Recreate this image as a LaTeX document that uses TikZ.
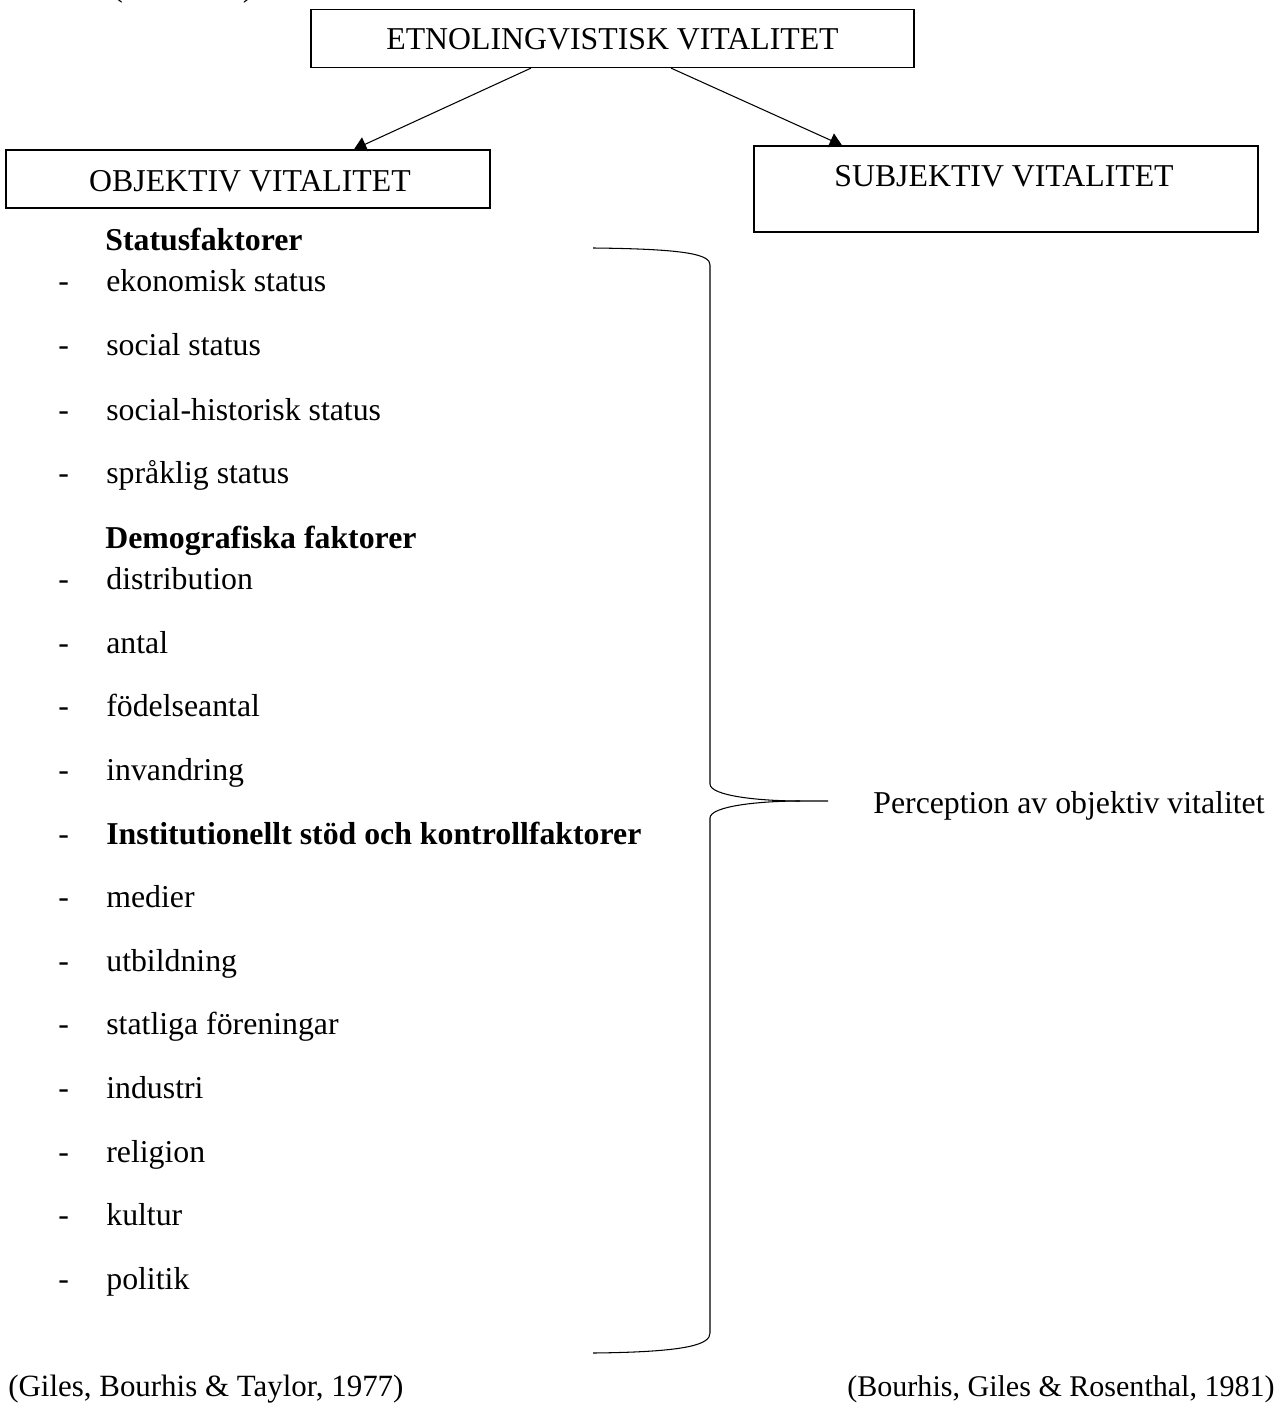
\documentclass[tikz,border=0pt]{standalone}
\usepackage{fontspec}
\setmainfont{Liberation Serif}
\usetikzlibrary{arrows.meta}

\begin{document}
\begin{tikzpicture}[x=0.02cm, y=-0.02cm,
		every node/.style={font=\fontsize{18.1}{21}\selectfont, inner sep=0pt},
		box/.style={draw, line width=0.7pt},
		item/.style={anchor=base west},
		fett/.style={font=\fontsize{18.1}{21}\selectfont\bfseries},
		pfeil/.style={-{Triangle[length=7pt, width=8.5pt]}, line width=0.6pt}]
	\useasboundingbox (0, 0) rectangle (1283, 1405);

	% Rest oben links
	\node[item] (rest) at (112, -3) {(\hspace{2.4cm})};

	% Kaesten
	\node[box, minimum width=12.06cm, minimum height=1.16cm] (etno) at (612.5, 38.5) {};
	\node[anchor=base] (etnotext) at (612.5, 50) {ETNOLINGVISTISK VITALITET};
	\node[box, minimum width=9.68cm, minimum height=1.16cm] (obj) at (248, 179) {};
	\node[anchor=base] (objtext) at (250, 192) {OBJEKTIV VITALITET};
	\node[box, minimum width=10.08cm, minimum height=1.72cm] (subj) at (1006, 189) {};
	\node[anchor=base] (subjtext) at (1004, 187) {SUBJEKTIV VITALITET};

	% Pfeile
	\draw[pfeil] ([xshift=-1.63cm]etno.south) -- ([xshift=2.12cm]obj.north);
	\draw[pfeil] ([xshift=1.17cm]etno.south) -- ([xshift=-3.28cm]subj.north);

	% Ueberschriften
	\node[item, fett] (status) at (105, 251) {Statusfaktorer};
	\node[item, fett] (demo) at (105, 548) {Demografiska faktorer};

	% Liste
	\foreach \y/\name/\text in {292/a/ekonomisk status, 356/b/social status,
			420/c/social-historisk status, 483/d/språklig status,
			589/e/distribution, 653/f/antal, 716/g/födelseantal, 780/h/invandring,
			907/i/medier, 971/j/utbildning, 1034/k/statliga föreningar,
			1098/l/industri, 1162/m/religion, 1225/n/kultur, 1289/o/politik} {
		\node[item] (dash\name) at (58, \y) {-};
		\node[item] (item\name) at (106, \y) {\text};
	}
	\node[item] (dashinst) at (58, 844) {-};
	\node[item, fett] (inst) at (106, 844) {Institutionellt stöd och kontrollfaktorer};

	% Klammer
	\draw[line width=0.6pt] (593, 248) .. controls (690, 249) and (710, 255) .. (710, 265)
		-- (710, 784) .. controls (710, 796) and (760, 801) .. (800, 801) -- (828, 801);
	\draw[line width=0.6pt] (800, 801) .. controls (760, 801) and (710, 806) .. (710, 818)
		-- (710, 1333) .. controls (710, 1344) and (690, 1352) .. (593, 1353);
	\node[item] (perc) at (873, 813) {Perception av objektiv vitalitet};

	% Quellen
	\node[item, font=\fontsize{17.6}{20}\selectfont] (quelle1) at (8, 1396) {(Giles, Bourhis \& Taylor, 1977)};
	\node[item, anchor=base east, font=\fontsize{17.1}{20}\selectfont] (quelle2) at (1275, 1396) {(Bourhis, Giles \& Rosenthal, 1981)};
\end{tikzpicture}
\end{document}
